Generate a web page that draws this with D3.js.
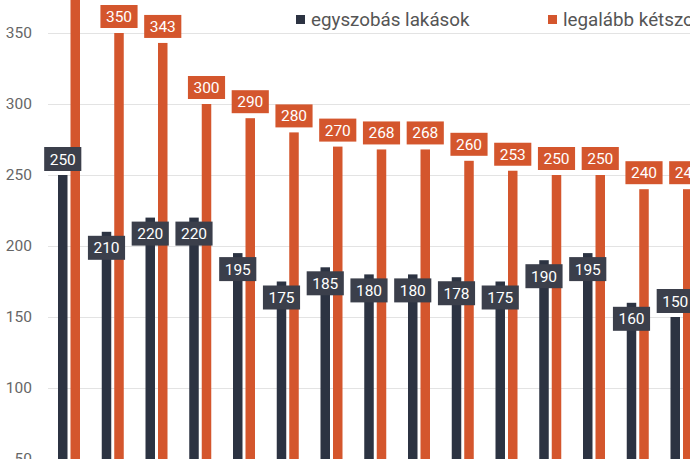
<!DOCTYPE html>
<html>
<head>
<meta charset="utf-8">
<script src="https://cdn.jsdelivr.net/npm/d3@7"></script>
<style>
  html, body { margin: 0; padding: 0; background: #fff; }
  svg { display: block; font-family: Roboto, "Noto Sans", sans-serif; }
</style>
</head>
<body>
<svg id="chart" width="690" height="459"></svg>
<script>
// ---- data ----
const categories = ["1","2","3","4","5","6","7","8","9","10","11","12","13","14","15"];
const seriesNames = ["egyszobás lakások", "legalább kétszobás lakások"];
const oneRoom = [250, 210, 220, 220, 195, 175, 185, 180, 180, 178, 175, 190, 195, 160, 150];
const twoPlusRooms = [400, 350, 343, 300, 290, 280, 270, 268, 268, 260, 253, 250, 250, 240, 240];
const yTicks = [50, 100, 150, 200, 250, 300, 350];

// ---- style ----
const W = 690, H = 459;
const darkColor = "#2c3342", darkBox = "#3b3f4b", orangeColor = "#d4562d";
const svg = d3.select("#chart");

const y = d3.scaleLinear().domain([50, 350]).range([459, 33]);
const step = 43.75;
const x0 = d3.scaleBand().domain(categories).range([47.8, 47.8 + step * categories.length]).padding(0);
const x1 = d3.scaleBand().domain(["a", "b"]).range([10.2, 32.2]).paddingInner(0.24).paddingOuter(0);

// gridlines + tick labels
const yAxis = d3.axisLeft(y).tickValues(yTicks).tickSize(-(W - 48)).tickPadding(16);
const gAxis = svg.append("g").attr("transform", "translate(48,0)").call(yAxis);
gAxis.select(".domain").remove();
gAxis.selectAll(".tick line").attr("stroke", "#e3e3e3").attr("stroke-width", 1);
gAxis.selectAll(".tick text").attr("fill", "#666").attr("font-size", "15.5px")
  .attr("font-family", "Roboto, sans-serif").attr("x", -16);

// bars
const groups = svg.append("g").selectAll("g").data(categories).join("g")
  .attr("transform", d => `translate(${x0(d)},0)`);

groups.append("rect")
  .attr("x", x1("a")).attr("width", x1.bandwidth())
  .attr("y", (d, i) => y(oneRoom[i])).attr("height", (d, i) => y(0) - y(oneRoom[i]))
  .attr("fill", darkColor);
groups.append("rect")
  .attr("x", x1("b")).attr("width", x1.bandwidth())
  .attr("y", (d, i) => y(twoPlusRooms[i])).attr("height", (d, i) => y(0) - y(twoPlusRooms[i]))
  .attr("fill", orangeColor);

// labels
function label(g, cx, top, text, fill, h) {
  const t = g.append("text").attr("x", cx).attr("y", top + h / 2 + 5.5)
    .attr("text-anchor", "middle").attr("fill", "#fff").attr("font-size", "15.5px").text(text);
  const w = t.node().getComputedTextLength() + 11;
  g.insert("rect", () => t.node()).attr("x", cx - w / 2).attr("y", top).attr("width", w).attr("height", h).attr("fill", fill);
}
const lab = svg.append("g");
categories.forEach((c, i) => {
  const gx = x0(c);
  const ob = y(twoPlusRooms[i]);
  label(lab.append("g"), gx + x1("b") + x1.bandwidth() / 2, ob - 5 - 23, twoPlusRooms[i], orangeColor, 23);
});
categories.forEach((c, i) => {
  const gx = x0(c);
  const db = y(oneRoom[i]);
  const above = (i === 0 || i === categories.length - 1);
  const top = above ? db - 4 - 24 : db + 4;
  label(lab.append("g"), gx + x1("a") + x1.bandwidth() / 2, top, oneRoom[i], darkBox, 24);
});

// legend
const legend = svg.append("g");
const legendX = [296, 548];
const legendColors = [darkColor, orangeColor];
seriesNames.forEach((n, i) => {
  legend.append("rect").attr("x", legendX[i]).attr("y", 15).attr("width", 9).attr("height", 9).attr("fill", legendColors[i]);
  legend.append("text").attr("x", legendX[i] + 15).attr("y", 25.5).attr("fill", "#555")
    .attr("font-size", "18.8px").text(n);
});
</script>
</body>
</html>
